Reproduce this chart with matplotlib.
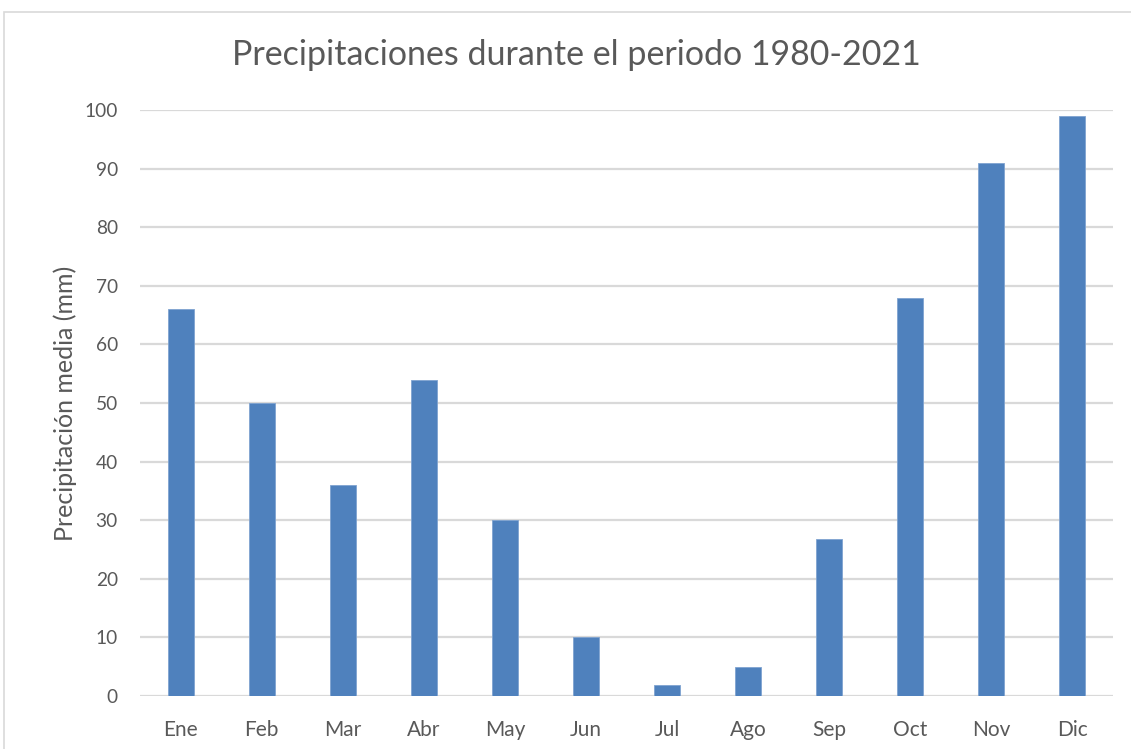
import matplotlib.pyplot as plt
from matplotlib.patches import Rectangle

months = ["Ene", "Feb", "Mar", "Abr", "May", "Jun",
          "Jul", "Ago", "Sep", "Oct", "Nov", "Dic"]
rain_mm = [66, 50, 36, 54, 30, 10, 1.8, 4.9, 26.8, 68, 91, 99]
y_ticks = [0, 10, 20, 30, 40, 50, 60, 70, 80, 90, 100]

plt.rcParams["font.family"] = ["Lato", "DejaVu Sans"]
text_color = "#595959"

fig = plt.figure(figsize=(11.31, 7.49), dpi=100)
W, H = 1131, 749
ax = fig.add_axes([140 / W, (H - 696) / H, (1113 - 140) / W, (696 - 110) / H])

ax.bar(range(len(months)), rain_mm, width=0.32, color="#4F81BD",
       edgecolor="#7FA3D0", linewidth=0.6, zorder=3)

ax.set_xlim(-0.5, len(months) - 0.5)
ax.set_ylim(0, 100)
ax.set_yticks(y_ticks)
ax.set_xticks(range(len(months)))
ax.set_xticklabels(months)
ax.yaxis.grid(True, color="#D9D9D9", linewidth=1.6, zorder=0)
ax.tick_params(axis="both", length=0, labelcolor=text_color)
ax.tick_params(axis="x", pad=17, labelsize=15)
ax.tick_params(axis="y", pad=16, labelsize=13.8)
for s in ax.spines.values():
    s.set_visible(False)

ax.set_ylabel("Precipitación media (mm)", fontsize=18, color=text_color)
ax.yaxis.set_label_coords(-0.065, 0.5)
fig.text(576 / W, 1 - 55 / H, "Precipitaciones durante el periodo 1980-2021",
         ha="center", va="center", fontsize=24.5, color=text_color)

# chart frame like the spreadsheet export
fig.patches.append(Rectangle((4 / W, -0.1), 1.2, 1 - 12 / H + 0.1,
                             transform=fig.transFigure, fill=False,
                             edgecolor="#D9D9D9", linewidth=1.2))

fig.savefig("out.png", dpi=100)
